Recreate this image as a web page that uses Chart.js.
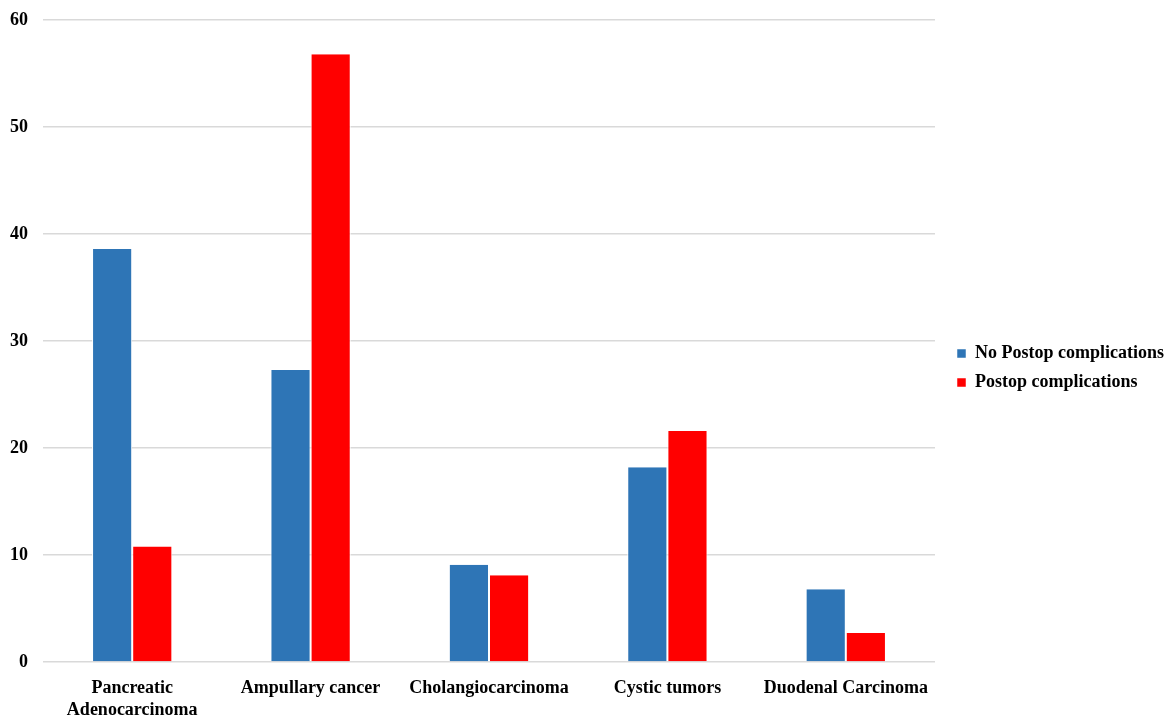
<!DOCTYPE html>
<html>
<head>
<meta charset="utf-8">
<script src="https://cdn.jsdelivr.net/npm/chart.js@4"></script>
<style>
  html, body { margin: 0; padding: 0; background: #ffffff; }
  #wrap { width: 1171px; height: 720px; }
</style>
</head>
<body>
<div id="wrap"><canvas id="c" width="1171" height="720"></canvas></div>
<script>
// Tumour types on the x axis (multi-line labels as arrays)
const categories = [
  ["Pancreatic", "Adenocarcinoma"],
  "Ampullary cancer",
  "Cholangiocarcinoma",
  "Cystic tumors",
  "Duodenal Carcinoma"
];

// Share of patients per tumour type
const noComplications = [38.6, 27.3, 9.1, 18.2, 6.8];
const withComplications = [10.8, 56.8, 8.1, 21.6, 2.7];

const seriesNames = ["No Postop complications", "Postop complications"];
const yTicks = { min: 0, max: 60, step: 10 };

const serifBold = { family: "'Liberation Serif', 'Times New Roman', serif", weight: "bold", size: 18 };

// Nudges the legend a little away from the plot area
const legendOffset = {
  id: "legendOffset",
  afterLayout(chart) {
    const lg = chart.legend;
    if (!lg) return;
    lg.left += 11; lg.right += 11;
    lg.top += 8; lg.bottom += 8;
  }
};

new Chart(document.getElementById("c"), {
  type: "bar",
  data: {
    labels: categories,
    datasets: [
      {
        label: seriesNames[0],
        data: noComplications,
        backgroundColor: "#2E75B6",
        borderColor: "#ffffff",
        borderWidth: { left: 1, right: 1, top: 0, bottom: 0 },
        categoryPercentage: 0.45,
        barPercentage: 1.0
      },
      {
        label: seriesNames[1],
        data: withComplications,
        backgroundColor: "#FF0000",
        borderColor: "#ffffff",
        borderWidth: { left: 1, right: 1, top: 0, bottom: 0 },
        categoryPercentage: 0.45,
        barPercentage: 1.0
      }
    ]
  },
  plugins: [legendOffset],
  options: {
    responsive: false,
    animation: false,
    devicePixelRatio: 1,
    layout: { padding: { top: 0, left: 9, right: 8, bottom: 0 } },
    plugins: {
      tooltip: { enabled: false },
      legend: {
        position: "right",
        align: "center",
        labels: {
          boxWidth: 9,
          boxHeight: 9,
          padding: 11,
          color: "#000000",
          font: serifBold
        }
      }
    },
    scales: {
      x: {
        grid: { display: false },
        border: { display: false },
        afterFit(scale) { scale.height = 58; },
        ticks: {
          color: "#000000",
          font: serifBold,
          maxRotation: 0,
          autoSkip: false,
          padding: 8
        }
      },
      y: {
        min: yTicks.min,
        max: yTicks.max,
        grid: { color: "#d9d9d9", lineWidth: 1.5, drawTicks: false },
        border: { display: false },
        afterFit(scale) { scale.width = 34; scale.paddingTop = 20; },
        ticks: {
          stepSize: yTicks.step,
          color: "#000000",
          font: serifBold,
          padding: 15
        }
      }
    }
  }
});
</script>
</body>
</html>
